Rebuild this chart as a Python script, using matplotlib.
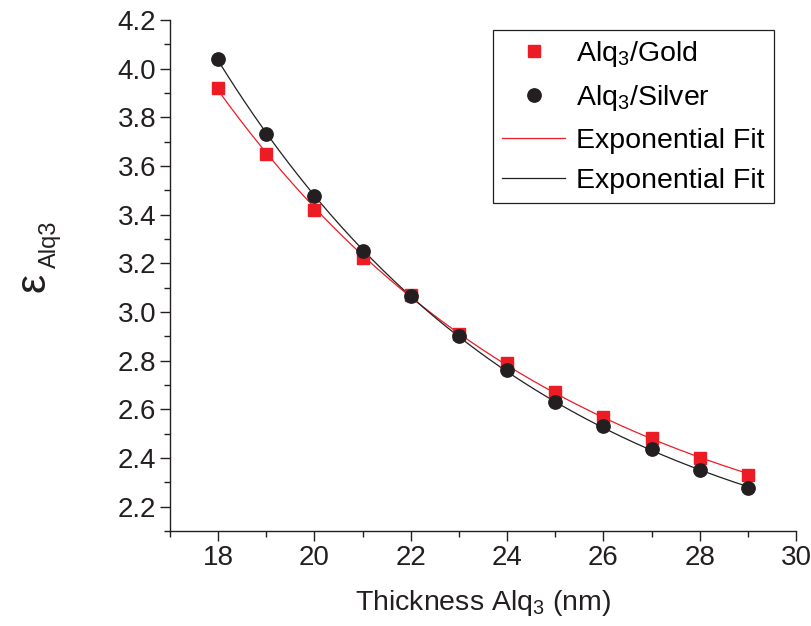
import numpy as np
import matplotlib
matplotlib.use("Agg")
import matplotlib.pyplot as plt
from matplotlib.ticker import MultipleLocator, FormatStrFormatter

plt.rcParams['font.family'] = ['Liberation Sans', 'DejaVu Sans']
plt.rcParams['mathtext.fontset'] = 'custom'
plt.rcParams['mathtext.rm'] = 'Liberation Sans'
plt.rcParams['mathtext.it'] = 'Liberation Sans:italic'
plt.rcParams['mathtext.bf'] = 'Liberation Sans:bold'

# Alq3 thickness (nm) and permittivity values
thickness = [18, 19, 20, 21, 22, 23, 24, 25, 26, 27, 28, 29]
eps_gold = [3.92, 3.65, 3.42, 3.22, 3.07, 2.91, 2.79, 2.67, 2.57, 2.48, 2.40, 2.33]
eps_silver = [4.04, 3.73, 3.475, 3.25, 3.065, 2.90, 2.76, 2.63, 2.53, 2.435, 2.35, 2.275]

RED = '#ED1C24'
BLACK = '#231F20'
W, H = 811, 626


def exp_fit(x, y):
    """Least-squares fit of y = y0 + A*exp(-x/t); returns a callable."""
    x = np.asarray(x, float)
    y = np.asarray(y, float)
    best = None
    for t in np.linspace(1.0, 40.0, 4000):
        M = np.column_stack([np.ones_like(x), np.exp(-x / t)])
        coef, *_ = np.linalg.lstsq(M, y, rcond=None)
        err = np.sum((M @ coef - y) ** 2)
        if best is None or err < best[0]:
            best = (err, coef, t)
    _, (y0, a), t = best
    return lambda xx: y0 + a * np.exp(-np.asarray(xx) / t)


fig = plt.figure(figsize=(W / 100, H / 100), dpi=100)
ax = fig.add_axes([0.2096, 0.1518, 0.7719, 0.8164])

xs = np.linspace(thickness[0], thickness[-1], 300)
fit_gold = exp_fit(thickness, eps_gold)
fit_silver = exp_fit(thickness, eps_silver)

h_gold, = ax.plot(thickness, eps_gold, linestyle='none', marker='s', ms=8.2,
                  color=RED, mec=RED, zorder=3)
h_silver, = ax.plot(thickness, eps_silver, linestyle='none', marker='o', ms=9.6,
                    color=BLACK, mec=BLACK, zorder=4)
h_fg, = ax.plot(xs, fit_gold(xs), color=RED, lw=0.9, zorder=2)
h_fs, = ax.plot(xs, fit_silver(xs), color=BLACK, lw=0.9, zorder=2)

ax.set_xlim(17, 30)
ax.set_ylim(2.1, 4.2)
ax.xaxis.set_major_locator(MultipleLocator(2))
ax.xaxis.set_minor_locator(MultipleLocator(1))
ax.yaxis.set_major_locator(MultipleLocator(0.2))
ax.yaxis.set_minor_locator(MultipleLocator(0.1))
ax.yaxis.set_major_formatter(FormatStrFormatter('%.1f'))

for side in ('top', 'right'):
    ax.spines[side].set_visible(False)
for side in ('left', 'bottom'):
    ax.spines[side].set_linewidth(1.0)
    ax.spines[side].set_color(BLACK)

ax.tick_params(which='major', direction='out', length=7, width=1.0,
               labelsize=20, colors=BLACK, pad=3)
ax.tick_params(which='minor', direction='out', length=4, width=1.0, colors=BLACK)

ax.set_xlabel('Thickness Alq$_3$ (nm)', fontsize=20.5, color=BLACK, labelpad=12)

# y-axis label: large epsilon with a lowered "Alq3" subscript
fig.text(45 / W, 1 - 292 / H, 'ε', rotation=90, rotation_mode='anchor',
         ha='left', va='baseline', fontsize=31, color=BLACK)
fig.text(56 / W, 1 - 268 / H, 'Alq3', rotation=90, rotation_mode='anchor',
         ha='left', va='baseline', fontsize=17, color=BLACK)

leg = ax.legend([h_gold, h_silver, h_fg, h_fs],
                ['Alq$_3$/Gold', 'Alq$_3$/Silver', 'Exponential Fit', 'Exponential Fit'],
                loc='upper right', bbox_to_anchor=(774 / W, 1 - 30 / H),
                bbox_transform=fig.transFigure, borderaxespad=0,
                fontsize=20.5, frameon=True,
                fancybox=False, edgecolor=BLACK, framealpha=1,
                handlelength=2.2, labelspacing=0.5, borderpad=0.32,
                handletextpad=0.4)
leg.get_frame().set_linewidth(0.9)

fig.savefig('out.png', dpi=100)
